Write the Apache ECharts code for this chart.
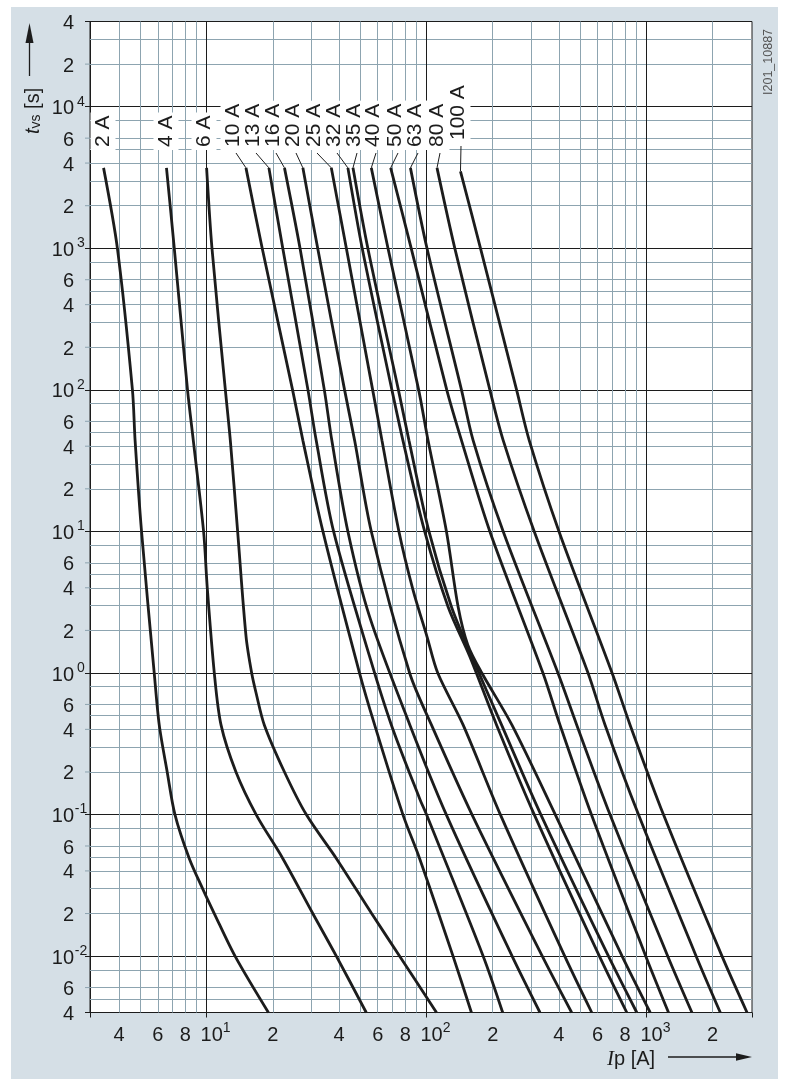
<!DOCTYPE html>
<html>
<head>
<meta charset="utf-8">
<script src="https://cdn.jsdelivr.net/npm/echarts/dist/echarts.min.js"></script>
<style>
html,body{margin:0;padding:0;background:#ffffff;width:787px;height:1085px;overflow:hidden;}
#bg{position:absolute;left:11px;top:7px;width:767px;height:1072px;background:#d5dfe6;}
#chart{position:absolute;left:0;top:0;width:787px;height:1085px;}
</style>
</head>
<body>
<div id="bg"></div>
<div id="chart"></div>
<script>
// ---------------- data ----------------
const fuseNames = ['2 A','4 A','6 A','10 A','13 A','16 A','20 A','25 A','32 A','35 A','40 A','50 A','63 A','80 A','100 A'];

// [prospective current Ip (A), virtual pre-arcing time tvs (s)]
const fuse2A  = [[3.40,3700],[3.93,1000],[4.60,100],[4.73,44],[5.06,10],[5.78,1],[6.09,0.43],[6.62,0.2],[7.18,0.1],[8.34,0.049],[9.59,0.03],[10.84,0.02],[13.47,0.01],[19.1,0.004]];
const fuse4A  = [[6.57,3700],[7.13,1000],[8.19,100],[8.70,44],[9.69,10],[10.07,4],[10.84,1],[11.63,0.43],[13.6,0.2],[16.8,0.1],[22.2,0.049],[30.4,0.02],[38.9,0.01],[53.2,0.004]];
const fuse6A  = [[10.0,3700],[10.58,1000],[12.17,100],[12.82,44],[13.84,10],[15.12,1.8],[16.03,1],[16.8,0.72],[18.3,0.43],[22.6,0.2],[28.4,0.1],[38.9,0.049],[56.3,0.02],[75.5,0.01],[111,0.004]];
const fuse10A = [[15.1,3700],[17.9,1000],[24.6,100],[27.4,44],[33.8,10],[49.6,1],[58.1,0.43],[78.1,0.1],[93,0.049],[132,0.01],[160,0.004]];
const fuse13A = [[19.2,3700],[22.2,1000],[28.9,100],[31.5,44],[37.8,10],[55.1,1.31],[69.2,0.43],[93,0.13],[100,0.1],[181,0.01],[222,0.004]];
const fuse16A = [[22.6,3700],[26.6,1000],[34.3,100],[37.1,44],[43.9,10],[55.1,2.5],[84.0,0.43],[123,0.1],[245,0.01],[328,0.004]];
const fuse20A = [[27.4,3700],[32.0,1000],[42.4,100],[47.1,44],[56.1,10],[83.8,1],[105.3,0.43],[161,0.1],[336,0.01],[457,0.004]];
const fuse25A = [[36.9,3700],[43.2,1000],[56.9,100],[62.7,44],[74.9,10],[86.8,3.87],[100.5,1.81],[112.5,1],[146.7,0.43],[216.7,0.1],[425,0.01],[564,0.004]];
const fuse32A = [[43.9,3700],[51.0,1000],[69.6,100],[78.1,44],[98.1,10],[125.3,2.94],[157.3,1.31],[208.2,0.43],[309,0.1],[611,0.01],[814,0.004]];
const fuse35A = [[46.3,3700],[54.1,1000],[74.5,100],[83.2,44],[102.6,10],[129.8,2.94],[160.7,1.31],[219.4,0.43],[331,0.1],[672,0.01],[904,0.004]];
const fuse40A = [[56.1,3700],[66.8,1000],[92.1,100],[101.6,44],[123.2,10],[139.2,2.94],[154.1,1.58],[178.5,1],[244.5,0.43],[385,0.1],[775,0.01],[1040,0.004]];
const fuse50A = [[68.7,3700],[85.2,1000],[123.6,100],[144.2,44],[194.1,10],[338.4,1],[404.5,0.43],[562,0.1],[993,0.01],[1260,0.004]];
const fuse63A = [[84.5,3700],[100.5,1000],[144.2,100],[162.9,44],[223.2,10],[396,1],[482,0.43],[683,0.1],[1250,0.01],[1610,0.004]];
const fuse80A = [[111.6,3700],[134.5,1000],[194.1,100],[223.2,44],[308.9,10],[542.6,1],[648.4,0.43],[920,0.1],[1683,0.01],[2167,0.004]];
const fuse100A= [[142.7,3500],[176.0,1000],[256.8,100],[293.1,44],[400.3,10],[697.9,1],[842.6,0.43],[1195,0.1],[2206,0.01],[2867,0.004]];
const fuseCurves = [fuse2A,fuse4A,fuse6A,fuse10A,fuse13A,fuse16A,fuse20A,fuse25A,fuse32A,fuse35A,fuse40A,fuse50A,fuse63A,fuse80A,fuse100A];

// axes: grid lines and tick labels
const xRange = [2.95, 3020];
const yRange = [0.004, 40000];
const xMajorGrid = [10,100,1000];
const xMinorGrid = [4,5,6,7,8,9,20,30,40,50,60,70,80,90,200,300,400,500,600,700,800,900,2000];
const xTickLabels = [4,6,8,10,20,40,60,80,100,200,400,600,800,1000,2000];
const yMajorGrid = [0.004,0.01,0.1,1,10,100,1000,10000,40000];
const yMinorGrid = [0.005,0.006,0.008,0.02,0.03,0.04,0.05,0.06,0.08,0.2,0.3,0.4,0.5,0.6,0.8,2,3,4,5,6,8,20,30,40,50,60,80,200,300,400,500,600,800,2000,3000,4000,5000,6000,8000,20000,30000];
const yTickLabels = [0.004,0.006,0.01,0.02,0.04,0.06,0.1,0.2,0.4,0.6,1,2,4,6,10,20,40,60,100,200,400,600,1000,2000,4000,6000,10000,20000,40000];

// ---------------- layout / style ----------------
const FONT = "'Liberation Sans', Arial, Helvetica, sans-serif";
const INK = '#1c1c1c';
const GRID_MINOR = '#8da4b0';
const fuseLabelX = [103,166,204,233,253,273,293,314,334,354,373,395,415,437,458];
const fuseLabelBottom = [147,147,147,147,147,147,147,147,147,147,147,147,147,147,140];

function lg(v){return Math.log(v)/Math.LN10;}
function same(a,b){return Math.abs(a/b-1)<1e-6;}
function isDecade(v){const e=lg(v);return Math.abs(e-Math.round(e))<1e-6;}
function decExp(v){return Math.round(lg(v));}
function mantissa(v){const e=Math.floor(lg(v)+1e-6);return Math.round(v/Math.pow(10,e));}
function yLabelText(v){return isDecade(v)?'{yb|10}{ys|'+decExp(v)+'}':'{yb|'+mantissa(v)+'}{yp|}';}
function xLabelText(v){return isDecade(v)?'{xp|}{xb|10}{xs|'+decExp(v)+'}':'{xb|'+mantissa(v)+'}';}
function inside(v, range){
  if (same(v, range[0])) return range[0]*(1+1e-7);
  if (same(v, range[1])) return range[1]*(1-1e-7);
  return v;
}

const minorLine = {color:GRID_MINOR,width:1,type:'solid',opacity:1};
const majorLine = {color:INK,width:1,type:'solid',opacity:1};

function buildItems(dim, range, major, minor, labels, textFn, dist){
  const vals = [];
  [...major, ...minor, ...labels].forEach(v => { if(!vals.some(u=>same(u,v))) vals.push(v); });
  return vals.map(v => {
    const item = {};
    item[dim] = inside(v, range);
    item.lineStyle = major.some(u=>same(u,v)) ? majorLine : minorLine;
    item.label = labels.some(u=>same(u,v))
      ? {show:true, position:'start', distance:dist, formatter:textFn(v), color:INK, opacity:1}
      : {show:false};
    return item;
  });
}
const gridItems = buildItems('yAxis', yRange, yMajorGrid, yMinorGrid, yTickLabels, yLabelText, 2)
  .concat(buildItems('xAxis', xRange, xMajorGrid, xMinorGrid, xTickLabels, xLabelText, 8.5));

const tickRich = {
  yb:{fontSize:20,lineHeight:24,verticalAlign:'bottom',fontFamily:FONT,color:INK},
  ys:{fontSize:14,lineHeight:14,verticalAlign:'top',width:14,align:'left',fontFamily:FONT,color:INK},
  yp:{width:14,lineHeight:24},
  xb:{fontSize:20,lineHeight:24,verticalAlign:'bottom',fontFamily:FONT,color:INK},
  xs:{fontSize:14,lineHeight:14,verticalAlign:'top',fontFamily:FONT,color:INK},
  xp:{width:18,lineHeight:24}
};

const series = fuseCurves.map((pts,i)=>({
  name: fuseNames[i],
  type:'line',
  data: pts,
  symbol:'none',
  smooth:0.3,
  z:3,
  silent:true,
  lineStyle:{color:INK,width:2.8},
  emphasis:{disabled:true}
}));
series[0].markLine = {
  silent:true,
  z:1,
  animation:false,
  precision:10,
  symbol:['none','none'],
  label:{show:false,color:INK,fontFamily:FONT,fontSize:20,rich:tickRich},
  emphasis:{disabled:true},
  data: gridItems
};

const chart = echarts.init(document.getElementById('chart'), null, {renderer:'canvas'});
const option = {
  animation:false,
  backgroundColor:'transparent',
  textStyle:{fontFamily:FONT},
  grid:{left:90,top:21.5,width:662,height:991,show:true,backgroundColor:'#ffffff',borderColor:INK,borderWidth:1},
  xAxis:{
    type:'log', min:xRange[0], max:xRange[1],
    axisLine:{show:true,lineStyle:{color:INK,width:1}},
    axisTick:{show:true,inside:false,length:5,lineStyle:{color:INK,width:1}},
    axisLabel:{show:false},
    splitLine:{show:false},
    minorTick:{show:false}, minorSplitLine:{show:false}
  },
  yAxis:{
    type:'log', min:yRange[0], max:yRange[1],
    axisLine:{show:true,lineStyle:{color:INK,width:1}},
    axisTick:{show:true,inside:false,length:5,lineStyle:{color:INK,width:1}},
    axisLabel:{show:false},
    splitLine:{show:false},
    minorTick:{show:false}, minorSplitLine:{show:false}
  },
  series: series
};
chart.setOption(option);

// ---------- annotations: curve labels, leader lines, minor ticks, axis titles ----------
const gfx = [];
fuseCurves.forEach((pts,i)=>{
  const top = chart.convertToPixel({seriesIndex:i}, pts[0]);
  const lx = fuseLabelX[i], lb = fuseLabelBottom[i];
  gfx.push({
    type:'text', x:lx, y:lb+3, rotation:Math.PI/2, z:50, silent:true,
    style:{text:fuseNames[i], fontSize:21, fontFamily:FONT, fill:INK,
      align:'left', verticalAlign:'middle', textAlign:'left', textVerticalAlign:'middle',
      backgroundColor:'#ffffff', padding:[2,3,2,3], lineHeight:21}
  });
  if (i >= 3) {
    gfx.push({type:'line', z:49, silent:true,
      shape:{x1:lx+3, y1:lb+6, x2:top[0], y2:top[1]},
      style:{stroke:INK, lineWidth:1}});
  }
});
// short outward ticks at the labelled intermediate y values (2, 4, 6 ...)
yTickLabels.forEach(v=>{
  if (isDecade(v) || same(v,yRange[0]) || same(v,yRange[1])) return;
  const py = chart.convertToPixel({yAxisIndex:0}, v);
  gfx.push({type:'line', z:2, silent:true, shape:{x1:85, y1:py, x2:90, y2:py}, style:{stroke:GRID_MINOR, lineWidth:1}});
});
// y title
gfx.push({
  type:'text', x:31, y:134, rotation:Math.PI/2, z:50, silent:true,
  style:{text:'{ti|t}{sb|vs}{nm| [s]}', align:'left', verticalAlign:'middle', textAlign:'left', textVerticalAlign:'middle', fill:INK,
    rich:{
      ti:{fontSize:20,fontStyle:'italic',fontFamily:FONT,lineHeight:24,verticalAlign:'bottom',fill:INK,color:INK},
      sb:{fontSize:14,fontFamily:FONT,lineHeight:12,verticalAlign:'bottom',fill:INK,color:INK},
      nm:{fontSize:20,fontFamily:FONT,lineHeight:24,verticalAlign:'bottom',fill:INK,color:INK}
    }}
});
gfx.push({type:'line', z:50, silent:true, shape:{x1:29.5,y1:76,x2:29.5,y2:40}, style:{stroke:INK,lineWidth:1.3}});
gfx.push({type:'polygon', z:50, silent:true, shape:{points:[[29.5,23],[25.5,43],[33.5,43]]}, style:{fill:INK}});
// x title
gfx.push({
  type:'text', x:607, y:1059, z:50, silent:true,
  style:{text:'{ix|I}{nm|p [A]}', align:'left', verticalAlign:'middle', textAlign:'left', textVerticalAlign:'middle', fill:INK,
    rich:{
      ix:{fontSize:21,fontStyle:'italic',fontFamily:"'Liberation Serif','Times New Roman',serif",lineHeight:24,fill:INK,color:INK},
      nm:{fontSize:20,fontFamily:FONT,lineHeight:24,fill:INK,color:INK}
    }}
});
gfx.push({type:'line', z:50, silent:true, shape:{x1:668,y1:1057,x2:740,y2:1057}, style:{stroke:INK,lineWidth:1.3}});
gfx.push({type:'polygon', z:50, silent:true, shape:{points:[[752,1057],[736,1053.2],[736,1060.8]]}, style:{fill:INK}});
// figure code
gfx.push({
  type:'text', x:769, y:95, rotation:Math.PI/2, z:50, silent:true,
  style:{text:'I201_10887', fontSize:12.5, fontFamily:FONT, fill:'#555555',
    align:'left', verticalAlign:'middle', textAlign:'left', textVerticalAlign:'middle'}
});
chart.setOption({graphic:{elements:gfx}});
</script>
</body>
</html>
